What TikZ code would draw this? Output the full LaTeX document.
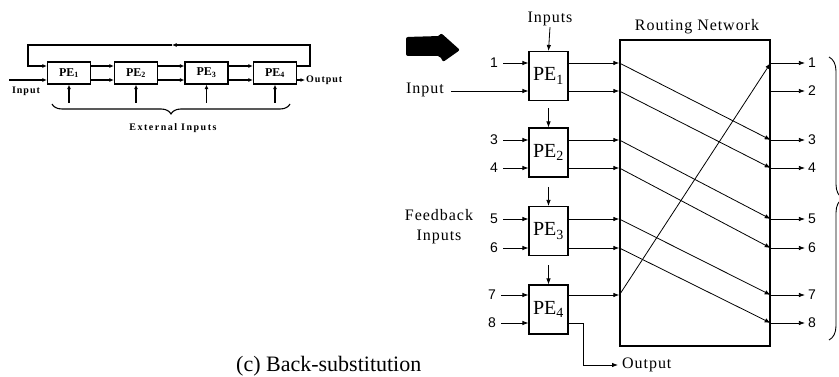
\documentclass[tikz,border=0pt]{standalone}
\usepackage{fontspec}
\setmainfont{Liberation Serif}
\newfontfamily\numfont{Liberation Sans}
\usetikzlibrary{arrows.meta,decorations.pathreplacing}
\begin{document}
\begin{tikzpicture}[x=1pt,y=-1pt,
  pebox/.style={draw,line width=1.1pt,minimum width=39pt,minimum height=49pt,inner sep=0pt,font=\fontsize{20}{22}\selectfont},
  spe/.style={draw,line width=1.3pt,minimum width=43pt,minimum height=22pt,inner sep=0pt,font=\bfseries\fontsize{12}{13}\selectfont},
  arr/.style={-{Latex[length=6pt,width=4.5pt]},line width=0.8pt},
  sarr/.style={-{Latex[length=4.5pt,width=4pt]},line width=1.2pt},
  num/.style={font=\numfont\fontsize{14}{16}\selectfont,inner sep=1pt},
  lbl/.style={font=\fontsize{16}{20}\selectfont\addfontfeature{LetterSpace=6},inner sep=1pt},
  slbl/.style={font=\bfseries\fontsize{10}{11}\selectfont\addfontfeature{LetterSpace=10},inner sep=1pt},
  net/.style={draw,line width=1.3pt,inner sep=0pt},
  brc/.style={decorate,line width=1.1pt}
]
\useasboundingbox (0,0) rectangle (839,377);
\clip (0,0) rectangle (839,377);

% ---------- left (small) diagram ----------
\coordinate (rowA) at (0,66);
\coordinate (rowB) at (0,80);
\node[spe] (s1) at (69,73) {PE\textsubscript{1}};
\node[spe] (s2) at (136,73) {PE\textsubscript{2}};
\node[spe] (s3) at (206.5,73) {PE\textsubscript{3}};
\node[spe] (s4) at (275,73) {PE\textsubscript{4}};
\draw[sarr] (s1.east |- rowA) -- (s2.west |- rowA);
\draw[sarr] (s1.east |- rowB) -- (s2.west |- rowB);
\draw[sarr] (s2.east |- rowA) -- (s3.west |- rowA);
\draw[sarr] (s2.east |- rowB) -- (s3.west |- rowB);
\draw[sarr] (s3.east |- rowA) -- (s4.west |- rowA);
\draw[sarr] (s3.east |- rowB) -- (s4.west |- rowB);
\coordinate (fbR) at (310,45);
\coordinate (fbM) at (172,45);
\coordinate (fbL) at (28,45);
\draw[sarr] (s4.east |- rowA) -| (fbR) -- (fbM);
\draw[sarr] (fbM) -- (fbL) |- (s1.west |- rowA);
\coordinate (sinL) at (9,80);
\draw[sarr] (sinL) -- (s1.west |- rowB);
\node[slbl] (sin) at (26,91) {Input};
\node[slbl,anchor=west] (sout) at (305,80) {Output};
\draw[sarr] (s4.east |- rowB) -- (sout.west);
\foreach \i in {1,...,4}{
  \draw[sarr] ([yshift=-18pt]s\i.south) -- (s\i.south);
}
\draw[brc,decoration={brace,amplitude=10pt}] (290,104) -- (52,104);
\node[slbl,font=\bfseries\fontsize{10}{12}\selectfont\addfontfeature{LetterSpace=15}] (ext) at (173,128) {External Inputs};

% ---------- big arrow ----------
\fill[rounded corners=2pt] (406,37) -- (440,36) -- (441,33) -- (460,50) -- (443,62) -- (440,56) -- (406,56) -- cycle;

% ---------- right diagram ----------
\node[pebox] (p1) at (548.5,76) {PE\textsubscript{1}};
\node[pebox] (p2) at (548.5,152.5) {PE\textsubscript{2}};
\node[pebox] (p3) at (548.5,231) {PE\textsubscript{3}};
\node[pebox] (p4) at (548.5,309.5) {PE\textsubscript{4}};
\node[net,minimum width=150pt,minimum height=306pt] (rn) at (695,193) {};
\node[lbl] (rnl) at (697,27) {Routing Network};
\node[lbl] (tin) at (550,19) {Inputs};
\draw[arr] (tin.south) -- (p1.north);
\foreach \i in {2,3,4}{
  \draw[arr] ([yshift=19pt]p\i.north) -- (p\i.north);
}

\foreach \i/\y in {1/63,2/91,3/140,4/168,5/219,6/248,7/295,8/323}{
  \path (rn.west |- 0,\y) coordinate (a\i);
  \path (rn.east |- 0,\y) coordinate (b\i);
  \node[num] (o\i) at (812,\y) {\i};
  \draw[arr,shorten >=2pt] (b\i) -- (o\i.west);
}

% left side inputs
\node[num] (n1) at (494,63) {1};
\node[lbl] (n2) at (425,90) {Input};
\node[num] (n3) at (494,140) {3};
\node[num] (n4) at (494,168) {4};
\node[num] (n5) at (494,219) {5};
\node[num] (n6) at (494,248) {6};
\node[num] (n7) at (492,295) {7};
\node[num] (n8) at (492,323) {8};
\node[lbl,align=center] (fb) at (439,227) {Feedback\\Inputs};
\draw[arr,shorten <=4pt] (n1.east) -- (n1.east -| p1.west);
\draw[arr,shorten <=6pt] (n2.east |- a2) -- (p1.west |- a2);
\draw[arr,shorten <=4pt] (n3.east) -- (n3.east -| p2.west);
\draw[arr,shorten <=4pt] (n4.east) -- (n4.east -| p2.west);
\draw[arr,shorten <=4pt] (n5.east) -- (n5.east -| p3.west);
\draw[arr,shorten <=4pt] (n6.east) -- (n6.east -| p3.west);
\draw[arr,shorten <=4pt] (n7.east) -- (n7.east -| p4.west);
\draw[arr,shorten <=4pt] (n8.east) -- (n8.east -| p4.west);

% PE outputs into the network
\draw[arr] (p1.east |- a1) -- (a1);
\draw[arr] (p1.east |- a2) -- (a2);
\draw[arr] (p2.east |- a3) -- (a3);
\draw[arr] (p2.east |- a4) -- (a4);
\draw[arr] (p3.east |- a5) -- (a5);
\draw[arr] (p3.east |- a6) -- (a6);
\draw[arr] (p4.east |- a7) -- (a7);

% routing inside the network
\draw[arr] (a1) -- (b3);
\draw[arr] (a2) -- (b4);
\draw[arr] (a3) -- (b5);
\draw[arr] (a4) -- (b6);
\draw[arr] (a5) -- (b7);
\draw[arr] (a6) -- (b8);
\draw[arr] (a7) -- (b1);

% PE4 output
\coordinate (bend) at (583,365);
\node[lbl,anchor=west] (out) at (621,365) {Output};
\draw[arr,shorten >=3pt] (p4.east |- n8) -| (bend) -- (out.west);

% right brace (cut by the frame)
\draw[decorate,line width=0.9pt,decoration={brace,amplitude=14pt}] (829,57) -- (829,340);

% caption
\node[anchor=base west,inner sep=0pt,font=\fontsize{22}{26}\selectfont] (cap) at (236,371) {(c) Back-substitution};
\end{tikzpicture}
\end{document}
